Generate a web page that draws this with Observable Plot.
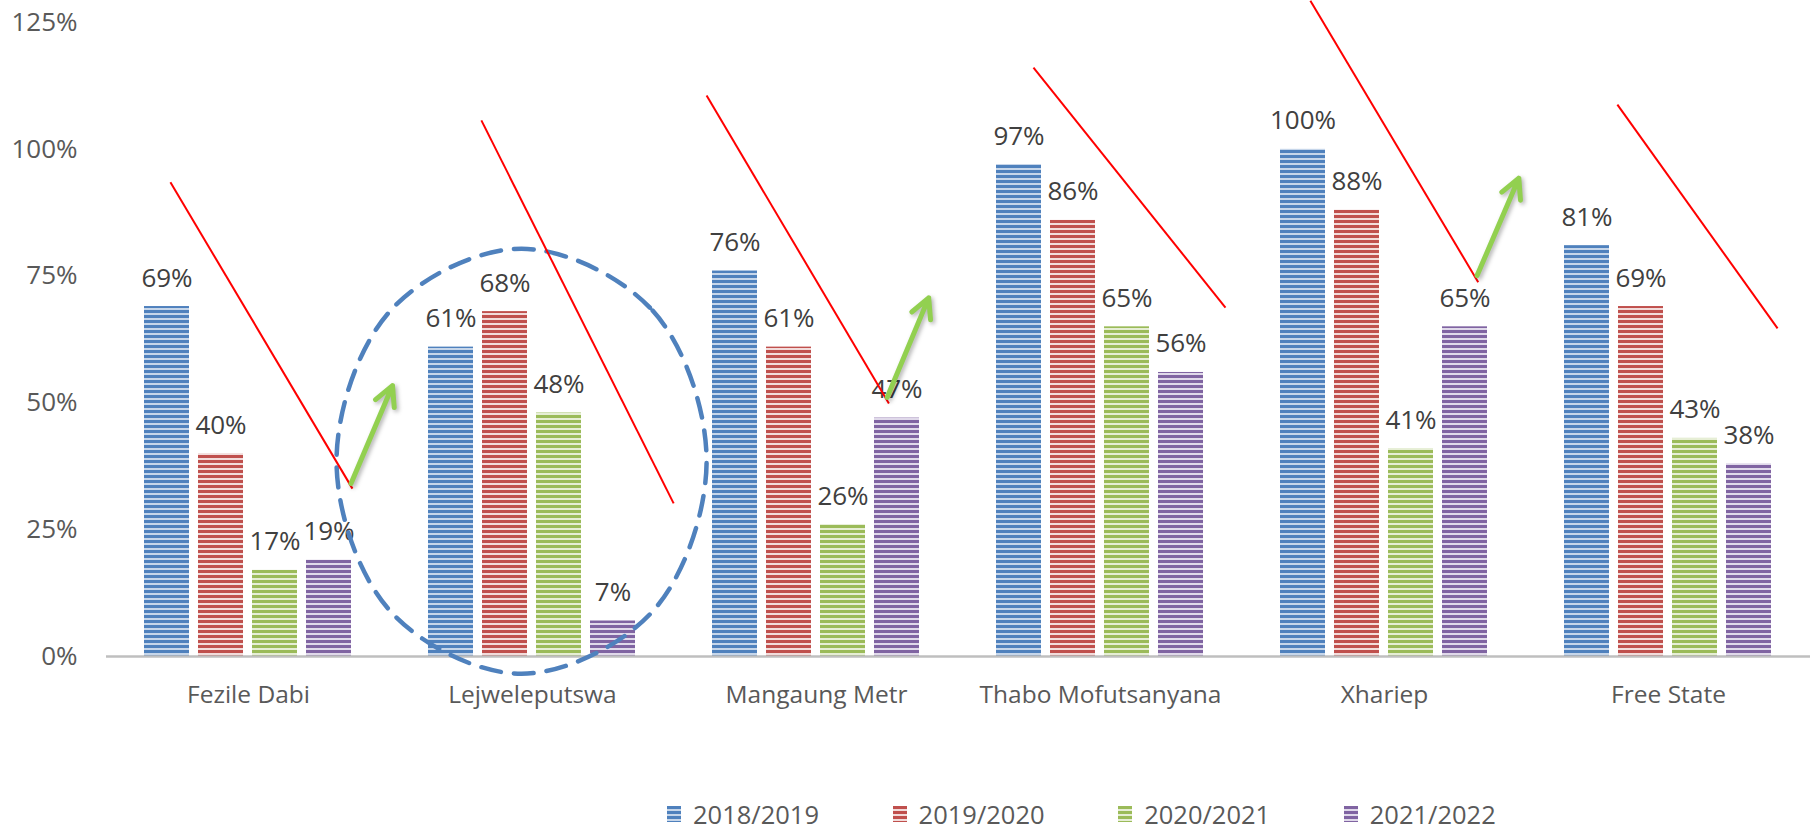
<!DOCTYPE html>
<html>
<head>
<meta charset="utf-8">
<script src="https://cdn.jsdelivr.net/npm/d3@7"></script>
<script src="https://cdn.jsdelivr.net/npm/@observablehq/plot@0.6"></script>
<style>
  html, body { margin: 0; padding: 0; background: #ffffff; overflow: hidden; }
  #wrap { position: relative; width: 1810px; height: 800px; }
  #wrap svg { position: absolute; left: 0; top: 0; }
  [aria-label^="y-axis"] text { font-size: 26px; fill: #595959; }
  [aria-label^="fx-axis"] text { font-size: 24.5px; fill: #595959; }
  [aria-label="arrow"] { filter: drop-shadow(2px 2px 2px rgba(0,0,0,0.3)); }
  #legend { display: flex; align-items: center; height: 28px; padding-left: 667px;
            font-family: "Open Sans", sans-serif; font-size: 25.5px; color: #595959; }
  #legend .item { display: flex; align-items: center; width: 225.6px; }
  #legend .item svg { margin-right: 12px; }
</style>
</head>
<body>
<svg width="0" height="0" style="position:absolute">
  <defs>
    <pattern id="pat0" patternUnits="userSpaceOnUse" width="10" height="5"><rect width="10" height="5" fill="#c6d6ea"/><rect width="10" height="3" fill="#4f81bd"/></pattern>
    <pattern id="pat1" patternUnits="userSpaceOnUse" width="10" height="5"><rect width="10" height="5" fill="#f2dcdb"/><rect width="10" height="3" fill="#c0504d"/></pattern>
    <pattern id="pat2" patternUnits="userSpaceOnUse" width="10" height="5"><rect width="10" height="5" fill="#e6eed5"/><rect width="10" height="3" fill="#9bbb59"/></pattern>
    <pattern id="pat3" patternUnits="userSpaceOnUse" width="10" height="5"><rect width="10" height="5" fill="#e0d9ea"/><rect width="10" height="3" fill="#8064a2"/></pattern>
  </defs>
</svg>
<div id="wrap"></div>
<div id="legend"></div>
<script>
// ---- data ----
const districts = ["Fezile Dabi", "Lejweleputswa", "Mangaung Metr", "Thabo Mofutsanyana", "Xhariep", "Free State"];
const years = ["2018/2019", "2019/2020", "2020/2021", "2021/2022"];
const v2018 = [69, 61, 76, 97, 100, 81];
const v2019 = [40, 68, 61, 86, 88, 69];
const v2020 = [17, 48, 26, 65, 41, 43];
const v2021 = [19, 7, 47, 56, 65, 38];
const yTicks = [0, 25, 50, 75, 100, 125];
const patternFills = ["url(#pat0)", "url(#pat1)", "url(#pat2)", "url(#pat3)"];

// annotations, in chart units (x: district slots 0..6, y: percent)
const redLines = [
  {x1: 0.225, y1: 93.5, x2: 0.866, y2: 33.1},
  {x1: 1.320, y1: 105.7, x2: 1.997, y2: 30.2},
  {x1: 2.113, y1: 110.6, x2: 2.755, y2: 49.9},
  {x1: 3.264, y1: 116.1, x2: 3.940, y2: 68.8},
  {x1: 4.239, y1: 129.3, x2: 4.830, y2: 73.8},
  {x1: 5.320, y1: 108.8, x2: 5.884, y2: 64.7}
];
const greenArrows = [
  {x1: 0.861, y1: 34.1, x2: 1.007, y2: 53.4},
  {x1: 2.749, y1: 51.1, x2: 2.895, y2: 70.7},
  {x1: 4.826, y1: 75.1, x2: 4.973, y2: 94.3}
];
const loopX = [1.461, 1.923, 2.113, 1.923, 1.461, 1.000, 0.810, 1.000];
const loopY = [80.4, 68.2, 38.6, 8.9, -3.4, 8.9, 38.5, 68.2];

// ---- tables ----
const series = [v2018, v2019, v2020, v2021];
const rows = districts.flatMap((d, i) => years.map((y, j) => ({district: d, year: y, value: series[j][i]})));
const loop = loopX.map((x, i) => ({x, y: loopY[i]}));

const W = 1810, H = 800, ML = 106, MR = 0, MT = 22, MB = 144;

const chart = Plot.plot({
  width: W, height: H, marginLeft: ML, marginRight: MR, marginTop: MT, marginBottom: MB,
  style: {fontFamily: "'Open Sans', sans-serif", fontSize: "25px", color: "#595959", background: "transparent"},
  facet: {data: rows, x: "district"},
  fx: {domain: districts, padding: 0, label: null, tickSize: 0, tickPadding: 29, axis: "bottom"},
  x: {domain: years, paddingInner: 0.164, paddingOuter: 0.664, axis: null},
  y: {domain: [0, 125], ticks: yTicks, tickFormat: d => d + "%", tickSize: 0, tickPadding: 29, label: null},
  color: {type: "ordinal", domain: years, range: patternFills},
  marks: [
    Plot.barY(rows, {x: "year", y: "value", fill: "year"}),
    Plot.ruleY([0], {stroke: "#bfbfbf", strokeWidth: 2.5}),
    Plot.text(rows, {x: "year", y: "value", text: d => d.value + "%", dy: -20, lineAnchor: "bottom",
                     fontSize: 26, fill: "#404040"})
  ]
});

const overlay = Plot.plot({
  width: W, height: H, marginLeft: ML, marginRight: MR, marginTop: MT, marginBottom: MB,
  style: {background: "transparent"},
  x: {domain: [0, 6], axis: null},
  y: {domain: [0, 125], axis: null},
  marks: [
    Plot.line(loop, {x: "x", y: "y", curve: "catmull-rom-closed", stroke: "#4f81bd", strokeWidth: 4.5,
                     strokeDasharray: "20,13", fill: "none"}),
    Plot.link(redLines, {x1: "x1", y1: "y1", x2: "x2", y2: "y2", stroke: "#ff0000", strokeWidth: 2}),
    Plot.arrow(greenArrows, {x1: "x1", y1: "y1", x2: "x2", y2: "y2", stroke: "#92d050", strokeWidth: 5,
                             headAngle: 55, headLength: 6.6})
  ]
});

const wrap = document.getElementById("wrap");
wrap.appendChild(chart);
wrap.appendChild(overlay);

// legend
const legend = document.getElementById("legend");
years.forEach((y, i) => {
  const item = document.createElement("div");
  item.className = "item";
  item.innerHTML = `<svg width="14" height="16"><rect width="14" height="16" fill="${patternFills[i]}"/></svg><span>${y}</span>`;
  legend.appendChild(item);
});
</script>
</body>
</html>
